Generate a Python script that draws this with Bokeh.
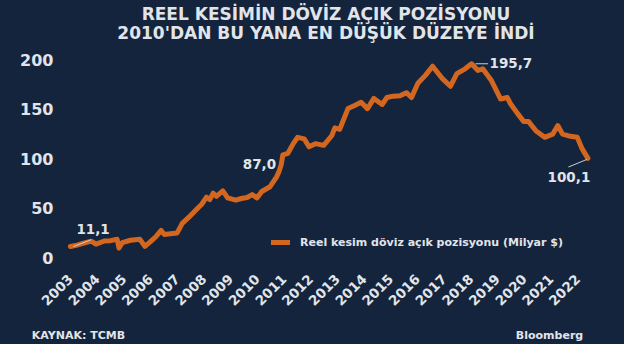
import numpy as np
from bokeh.plotting import figure
from bokeh.models import (Range1d, FixedTicker, Label, Legend, LegendItem,
                          ColumnDataSource, Title, LinearAxis)
from bokeh.embed import file_html
from bokeh.resources import INLINE

# ---- data ----
years = [2003.0, 2003.25, 2003.5, 2003.78, 2003.96, 2004.27, 2004.5, 2004.75, 2004.82, 2004.94,
         2005.25, 2005.6, 2005.79, 2006.0, 2006.22, 2006.4, 2006.52, 2006.75, 2007.0, 2007.19,
         2007.45, 2007.74, 2007.92, 2008.1, 2008.22, 2008.35, 2008.47, 2008.71, 2008.89, 2009.2,
         2009.4, 2009.62, 2009.81, 2009.99, 2010.17, 2010.48, 2010.72, 2010.82, 2010.9, 2010.96,
         2011.15, 2011.35, 2011.51, 2011.76, 2011.94, 2012.18, 2012.49, 2012.79, 2012.91, 2013.09,
         2013.4, 2013.65, 2013.89, 2014.13, 2014.37, 2014.68, 2014.86, 2015.1, 2015.35, 2015.59,
         2015.78, 2016.02, 2016.3, 2016.57, 2016.93, 2017.24, 2017.48, 2017.79, 2018.03, 2018.27,
         2018.45, 2018.76, 2019.12, 2019.37, 2019.49, 2019.75, 2019.98, 2020.16, 2020.45, 2020.77,
         2021.07, 2021.26, 2021.44, 2021.74, 2021.99, 2022.17, 2022.39]
fx_open = [11.1, 12.5, 14.5, 16.5, 13.5, 16.7, 17.0, 18.4, 9.5, 15.0,
           17.4, 18.4, 11.3, 16.0, 21.5, 27.3, 23.2, 24.0, 24.8, 34.5,
           41.0, 49.0, 53.8, 60.9, 58.6, 65.0, 61.8, 67.3, 60.2, 58.0,
           59.6, 60.6, 63.5, 60.2, 66.7, 71.5, 81.2, 87.0, 94.0, 103.7,
           105.3, 115.0, 121.4, 119.8, 111.8, 115.0, 113.3, 123.0, 131.0, 129.5,
           150.4, 153.6, 156.8, 150.4, 160.7, 154.6, 161.6, 163.0, 163.3, 166.5,
           161.6, 176.0, 184.0, 193.2, 181.0, 173.0, 185.8, 190.6, 195.7, 189.0,
           190.6, 179.4, 160.1, 161.6, 155.3, 145.6, 137.5, 137.5, 127.8, 121.4,
           124.6, 133.3, 124.6, 122.4, 121.4, 110.0, 100.1]
year_ticks = list(range(2003, 2023))
y_ticks = [0, 50, 100, 150, 200]
ann_values = [11.1, 87.0, 195.7, 100.1]
ann_texts = ["11,1", "87,0", "195,7", "100,1"]

title_1 = "REEL KESİMİN DÖVİZ AÇIK POZİSYONU"
title_2 = "2010'DAN BU YANA EN DÜŞÜK DÜZEYE İNDİ"
legend_text = "Reel kesim döviz açık pozisyonu (Milyar $)"
source_text = "KAYNAK: TCMB"
brand_text = "Bloomberg"

BG = "#14243d"
ORANGE = "#d4671f"
TXT = "#e1e5ea"
FONT = "DejaVu Sans"

X0, X1 = 2002.554, 2022.599
Y0, Y1 = -3.03, 223.25
FL, FR, FT, FB = 58, 31, 0, 84   # borders (top border comes from the titles)
W, H = 624, 344
FRAME_W = W - FL - FR

p = figure(width=W, height=H, output_backend="svg", toolbar_location=None,
           x_range=Range1d(X0, X1), y_range=Range1d(Y0, Y1),
           min_border_left=FL, min_border_right=FR, min_border_top=FT, min_border_bottom=FB,
           background_fill_color=BG, border_fill_color=BG, outline_line_color=None,
           title=title_1)
p.styles = {"background-color": BG}

def style_title(t, size="17px", font=FONT, bold=True):
    t.text_font = font
    t.text_font_style = "bold" if bold else "normal"
    t.text_font_size = size
    t.text_color = TXT

p.title.align = "center"
style_title(p.title)
p.title.standoff = 4.2

t2 = Title(text=title_2, align="center", standoff=-12)
style_title(t2)
p.add_layout(t2, "above")

p.xgrid.grid_line_color = None
p.ygrid.grid_line_color = None

def plain_axis(ax):
    ax.axis_line_color = None
    ax.major_tick_line_color = None
    ax.minor_tick_line_color = None
    ax.major_tick_out = 0
    ax.major_tick_in = 0
    ax.major_label_text_font = FONT
    ax.major_label_text_font_style = "bold"
    ax.major_label_text_color = TXT

plain_axis(p.xaxis[0])
plain_axis(p.yaxis[0])

p.xaxis.ticker = FixedTicker(ticks=year_ticks)
p.xaxis.major_label_orientation = np.pi / 4
p.xaxis.major_label_text_font_size = "13.5px"
p.xaxis.major_label_standoff = 16
p.yaxis.ticker = FixedTicker(ticks=y_ticks)
p.yaxis.major_label_text_font_size = "16px"
p.yaxis.major_label_standoff = 5

src = ColumnDataSource(dict(t=years, v=fx_open))
r = p.line("t", "v", source=src, line_width=5, line_color=ORANGE,
           line_join="round", line_cap="round")

legend = Legend(items=[LegendItem(label=legend_text, renderers=[r])],
                location=(213, 8), background_fill_alpha=0, border_line_color=None,
                label_text_color=TXT, label_text_font=FONT, label_text_font_style="bold",
                label_text_font_size="11px", glyph_width=19, glyph_height=20,
                label_standoff=10, padding=0, margin=0, spacing=0)
p.add_layout(legend)

# footer line (source left, brand right) as a tick-less pixel axis under the x axis
FOOT_POS = {20: source_text, 491: brand_text}
p.extra_x_ranges = {"foot": Range1d(0, FRAME_W)}
foot = LinearAxis(x_range_name="foot", ticker=FixedTicker(ticks=list(FOOT_POS)),
                  major_label_overrides=FOOT_POS)
plain_axis(foot)
foot.major_label_text_font_size = "11px"
foot.major_label_standoff = 15
p.add_layout(foot, "below")

# annotations (offsets in screen px from the data point)
px_per_year = FRAME_W / (X1 - X0)
px_per_unit = (260 - 36.2) / (Y1 - Y0)
offsets = {"11,1": (22.7, 17.5, "center"), "87,0": (-3, 7, "right"),
           "195,7": (18, 0.5, "left"), "100,1": (-19, -19, "center")}
leaders = {"11,1": ((3, 0), (20.5, 6.7)), "195,7": ((4, 0), (16.5, 0)),
           "100,1": ((-1, -1), (-19.5, -8.6))}
for val, txt in zip(ann_values, ann_texts):
    i = fx_open.index(val)
    xt, yv = years[i], fx_open[i]
    dx, dy, al = offsets[txt]
    p.add_layout(Label(x=xt, y=yv, x_offset=dx, y_offset=dy, text=txt,
                       text_align=al, text_baseline="middle", text_color=TXT,
                       text_font=FONT, text_font_style="bold", text_font_size="13.5px"))
    if txt in leaders:
        (a0, b0), (a1, b1) = leaders[txt]
        p.segment(x0=[xt + a0 / px_per_year], y0=[yv + b0 / px_per_unit],
                  x1=[xt + a1 / px_per_year], y1=[yv + b1 / px_per_unit],
                  line_color="#c9ced6", line_width=1)

open("out.html", "w").write(file_html(p, INLINE))
